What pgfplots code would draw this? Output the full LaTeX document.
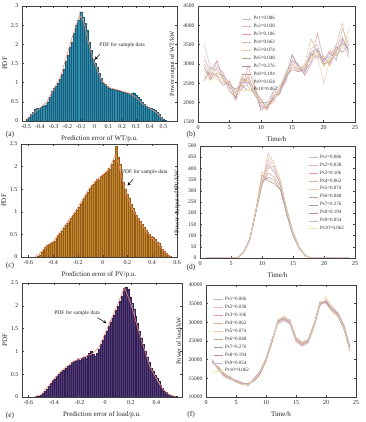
\documentclass[border=0pt]{standalone}
\usepackage{fontspec}
\setmainfont{Liberation Serif}
\usepackage{pgfplots}
\pgfplotsset{compat=1.18}
\usepackage{pgfplotstable}

\definecolor{wtfill}{RGB}{46,142,174}
\definecolor{wtedge}{RGB}{26,92,120}
\definecolor{pvfill}{RGB}{200,136,45}
\definecolor{pvedge}{RGB}{145,92,25}
\definecolor{ldfill}{RGB}{82,58,122}
\definecolor{ldedge}{RGB}{50,32,82}
\definecolor{pdfline}{RGB}{240,140,110}
\definecolor{c1}{RGB}{200,184,192}
\definecolor{c2}{RGB}{236,176,186}
\definecolor{c3}{RGB}{230,150,150}
\definecolor{c4}{RGB}{210,184,150}
\definecolor{c5}{RGB}{244,200,166}
\definecolor{c6}{RGB}{196,162,136}
\definecolor{c7}{RGB}{162,152,174}
\definecolor{c8}{RGB}{190,138,138}
\definecolor{c9}{RGB}{192,184,220}
\definecolor{c10}{RGB}{238,226,166}

\pgfplotstableread{
x y
-0.4925 0.04
-0.4775 0.10
-0.4625 0.17
-0.4475 0.22
-0.4325 0.30
-0.4175 0.33
-0.4025 0.34
-0.3875 0.36
-0.3725 0.40
-0.3575 0.42
-0.3425 0.50
-0.3275 0.62
-0.3125 0.78
-0.2975 0.86
-0.2825 0.90
-0.2675 0.98
-0.2525 1.10
-0.2375 1.22
-0.2225 1.35
-0.2075 1.55
-0.1925 1.72
-0.1775 1.92
-0.1625 2.05
-0.1475 2.30
-0.1325 2.50
-0.1175 2.62
-0.1025 2.85
-0.0875 2.70
-0.0725 2.55
-0.0575 2.38
-0.0425 2.05
-0.0275 1.85
-0.0125 1.62
0.0025 1.50
0.0175 1.40
0.0325 1.25
0.0475 1.12
0.0625 1.00
0.0775 0.95
0.0925 0.90
0.1075 0.86
0.1225 0.84
0.1375 0.82
0.1525 0.80
0.1675 0.80
0.1825 0.78
0.1975 0.76
0.2125 0.76
0.2275 0.72
0.2425 0.74
0.2575 0.70
0.2725 0.72
0.2875 0.74
0.3025 0.68
0.3175 0.62
0.3325 0.56
0.3475 0.48
0.3625 0.44
0.3775 0.40
0.3925 0.36
0.4075 0.34
0.4225 0.30
0.4375 0.28
0.4525 0.24
0.4675 0.18
0.4825 0.10
0.4975 0.04
0.5125 0.02
}\histWT

\pgfplotstableread{
x y
-0.5225 0.01
-0.5075 0.04
-0.4925 0.10
-0.4775 0.16
-0.4625 0.22
-0.4475 0.26
-0.4325 0.28
-0.4175 0.30
-0.4025 0.33
-0.3875 0.35
-0.3725 0.42
-0.3575 0.48
-0.3425 0.52
-0.3275 0.58
-0.3125 0.64
-0.2975 0.70
-0.2825 0.74
-0.2675 0.80
-0.2525 0.86
-0.2375 0.92
-0.2225 0.98
-0.2075 1.04
-0.1925 1.10
-0.1775 1.18
-0.1625 1.24
-0.1475 1.30
-0.1325 1.38
-0.1175 1.44
-0.1025 1.52
-0.0875 1.58
-0.0725 1.62
-0.0575 1.68
-0.0425 1.72
-0.0275 1.70
-0.0125 1.78
0.0025 1.82
0.0175 1.86
0.0325 1.90
0.0475 1.96
0.0625 1.95
0.0775 2.05
0.0925 2.15
0.1075 2.45
0.1225 2.20
0.1375 2.05
0.1525 1.85
0.1675 1.65
0.1825 1.50
0.1975 1.40
0.2125 1.30
0.2275 1.18
0.2425 1.08
0.2575 1.00
0.2725 0.92
0.2875 0.86
0.3025 0.80
0.3175 0.72
0.3325 0.66
0.3475 0.60
0.3625 0.54
0.3775 0.50
0.3925 0.46
0.4075 0.44
0.4225 0.40
0.4375 0.34
0.4525 0.30
0.4675 0.24
0.4825 0.18
0.4975 0.12
0.5125 0.08
0.5275 0.04
0.5425 0.02
}\histPV

\pgfplotstableread{
x y
-0.5425 0.01
-0.5275 0.01
-0.5125 0.02
-0.4975 0.04
-0.4825 0.08
-0.4675 0.12
-0.4525 0.18
-0.4375 0.24
-0.4225 0.30
-0.4075 0.36
-0.3925 0.40
-0.3775 0.46
-0.3625 0.50
-0.3475 0.54
-0.3325 0.58
-0.3175 0.60
-0.3025 0.64
-0.2875 0.68
-0.2725 0.70
-0.2575 0.76
-0.2425 0.78
-0.2275 0.80
-0.2125 0.84
-0.1975 0.80
-0.1825 0.86
-0.1675 0.88
-0.1525 0.84
-0.1375 0.92
-0.1225 0.96
-0.1075 1.00
-0.0925 0.94
-0.0775 0.90
-0.0625 0.96
-0.0475 1.05
-0.0325 1.15
-0.0175 1.25
-0.0025 1.35
0.0125 1.45
0.0275 1.55
0.0425 1.65
0.0575 1.72
0.0725 1.80
0.0875 1.90
0.1025 2.00
0.1175 2.10
0.1325 2.22
0.1475 2.38
0.1625 2.40
0.1775 2.36
0.1925 2.20
0.2075 2.05
0.2225 1.92
0.2375 1.78
0.2525 1.62
0.2675 1.45
0.2825 1.30
0.2975 1.15
0.3125 1.00
0.3275 0.88
0.3425 0.76
0.3575 0.64
0.3725 0.56
0.3875 0.48
0.4025 0.42
0.4175 0.34
0.4325 0.26
0.4475 0.20
0.4625 0.14
0.4775 0.10
0.4925 0.06
0.5075 0.04
0.5225 0.02
0.5375 0.01
0.5525 0.01
}\histLD

\pgfplotstableread{
t s1 s2 s3 s4 s5 s6 s7 s8 s9 s10
1 3500 2700 3000 2600 3200 2550 2900 2800 3100 2750
2 2900 2600 2650 2800 2700 2900 2600 2750 2850 2550
3 3050 2900 3100 2700 2600 2850 2750 2700 2950 2800
4 2700 2800 2550 2600 2500 2650 2700 2450 2750 2600
5 2500 2350 2500 2400 2600 2300 2450 2550 2400 2500
6 2100 2050 2300 2250 2200 2150 2350 2100 2250 2200
7 2650 2400 2350 2700 2500 2600 2450 2550 2350 2450
8 2500 2700 2950 2400 2600 2550 2300 2650 2500 2600
9 2350 2200 2400 2250 2500 2200 2350 2300 2450 2300
10 1900 2000 1850 2050 1950 2000 1800 2100 1900 1950
11 1850 1800 1950 1900 1800 2000 1900 1850 2000 1900
12 2300 2100 2000 2200 2250 2050 2100 2150 2300 2000
13 2450 2250 2400 2200 2350 2300 2250 2350 2250 2400
14 2700 2600 2550 2700 2600 2800 2650 2700 2550 2750
15 3200 2950 3100 2900 3050 3000 3250 2850 3100 3000
16 2950 2800 3000 2850 2950 2850 2900 2800 2950 2900
17 2850 2900 2700 3000 2800 2950 2750 2850 2800 2900
18 3400 3300 3000 3650 3100 3250 3300 3200 3050 3150
19 3500 3200 3800 3300 3250 3150 3400 3350 3200 3300
20 3000 3150 3100 2950 2500 3200 3050 3000 3100 2900
21 3100 3000 3350 3200 3100 2950 3300 3050 3200 3150
22 3300 3400 3200 3500 3250 3350 3100 3450 3300 3250
23 3900 3700 3500 4050 3400 3550 3650 3300 3600 3500
24 3500 3300 3600 3200 3900 3400 3350 3500 3150 3700
}\wtdata

\pgfplotstableread{
t s1 s2 s3 s4 s5 s6 s7 s8 s9 s10
1 0 0 0 0 0 0 0 0 0 0
2 0 0 0 0 0 0 0 0 0 0
3 0 0 0 0 0 0 0 0 0 0
4 0 0 0 0 0 0 0 0 0 0
5 0 0 0 0 0 0 0 0 0 0
6 0 0 0 0 0 0 0 0 0 0
7 25 22 28 24 26 23 27 25 24 26
8 80 75 85 78 82 76 84 80 79 81
9 210 200 215 205 220 200 210 205 212 208
10 330 340 350 320 385 330 340 370 335 345
11 470 440 420 400 350 380 360 345 410 455
12 420 400 380 410 340 360 350 330 390 415
13 340 320 330 345 310 320 300 305 330 335
14 210 200 215 220 195 205 190 200 210 212
15 110 105 115 120 100 108 100 105 112 110
16 45 42 48 50 40 44 42 45 46 44
17 10 8 12 12 9 10 9 10 11 10
18 0 0 0 0 0 0 0 0 0 0
19 0 0 0 0 0 0 0 0 0 0
20 0 0 0 0 0 0 0 0 0 0
21 0 0 0 0 0 0 0 0 0 0
22 0 0 0 0 0 0 0 0 0 0
23 0 0 0 0 0 0 0 0 0 0
24 0 0 0 0 0 0 0 0 0 0
}\pvdata

\pgfplotstableread{
t s1 s2 s3 s4 s5 s6 s7 s8 s9 s10
1 19800 19500 20000 19300 19900 19600 20100 19400 19700 20200
2 17500 18200 17600 17900 17300 18000 17700 18100 17400 17800
3 15800 16400 15600 16200 15400 16500 15900 16100 15700 16300
4 15000 15200 14700 15300 14800 15100 14900 15400 14600 15000
5 14300 14000 14400 14100 14500 14200 14000 14300 14600 14100
6 13700 13400 13900 13500 13800 13300 13600 13500 14000 13400
7 13300 13500 13100 13600 12900 13400 13200 13700 13000 13300
8 14800 14400 15000 14300 14700 14500 14900 14200 14800 14600
9 16800 16200 16900 16000 16600 16400 16700 16100 16800 16500
10 20200 19800 20500 19500 20300 19900 20100 19700 20400 20000
11 25300 24800 25600 24500 25200 25000 24900 24700 25400 25100
12 30500 30000 29800 30800 29500 30600 30200 30400 29900 30700
13 30800 31500 30600 31200 30200 31600 30900 31300 30500 31400
14 29800 30500 29500 30200 30800 29900 30100 30400 29700 30300
15 25200 26000 24800 25800 25400 25600 25300 25700 24900 25500
16 24000 24500 23800 24700 23600 24300 24100 24600 23500 24400
17 24800 25300 24600 25200 24400 25100 24900 25400 24500 25200
18 29000 29600 28700 29400 28600 29100 29300 29500 28800 29200
19 34800 35300 34500 35600 34200 35100 34900 35400 34600 35200
20 35300 35800 36000 35100 36500 35400 35600 35200 35900 37200
21 33700 33200 34000 33000 34500 33400 33600 33100 33900 33300
22 32200 31800 32600 31500 32400 32000 32300 31700 32500 31900
23 28800 28300 29200 28000 29500 28600 28900 28200 29100 28400
24 23000 22500 23500 22200 23800 22900 23200 22400 23600 22700
}\lddata

\pgfplotsset{
  base/.style={
    scale only axis, anchor=south west,
    tick align=inside, major tick length=2pt,
    axis line style={black!75}, every tick/.style={black!75},
    tick label style={font=\fontsize{6}{6}\selectfont, text=black!85},
    label style={font=\fontsize{7}{7.5}\selectfont, text=black!85},
    /pgf/number format/assume math mode=true,
    /pgf/number format/1000 sep={},
    scaled ticks=false,
  },
  hist/.style={base, ymin=0, ylabel={PDF}, axis on top,
    ylabel style={yshift=-3pt}},
  lines/.style={base, xmin=0, xmax=25, xtick={0,5,...,25}, xlabel={Time/h},
    yticklabel style={font=\fontsize{5.5}{5.5}\selectfont},
    ylabel style={font=\fontsize{6.5}{7}\selectfont, yshift=1pt},
    legend cell align=left,
    legend style={draw=none, fill=none, font=\fontsize{5}{5}\selectfont,
      row sep=-0.9pt, inner sep=0pt, text=black!80},
    legend image code/.code={\draw[#1] (0pt,0pt) -- (9pt,0pt);},
    every axis plot/.append style={line width=0.45pt, no marks},
  },
  hbar/.style={ybar, bar width=0.015, bar shift=0pt, line width=0.2pt},
  pdfl/.style={color=pdfline, line width=0.6pt, no marks},
}

\begin{document}
\begin{tikzpicture}
\path[use as bounding box] (0pt,0pt) rectangle (365pt,422pt);

% (a)
\begin{axis}[hist, at={(22pt,301pt)}, width=155pt, height=115pt,
  xmin=-0.53, xmax=0.6, ymax=3,
  xtick={-0.5,-0.4,...,0.5}, ytick={0,0.5,...,3},
  xlabel={Prediction error of WT/p.u.}]
\addplot[hbar, fill=wtfill, draw=wtedge] table[x=x,y=y] {\histWT};
\addplot[pdfl] coordinates {(-0.5,0.02)(-0.45,0.2)(-0.4,0.33)(-0.35,0.5)(-0.3,0.82)(-0.25,1.15)(-0.2,1.75)(-0.15,2.35)(-0.11,2.75)(-0.08,2.6)(-0.05,2.1)(0,1.5)(0.05,1.05)(0.1,0.88)(0.2,0.78)(0.25,0.72)(0.3,0.62)(0.35,0.45)(0.4,0.33)(0.45,0.22)(0.5,0.03)};
\node[font=\fontsize{5.5}{6}\selectfont, text=black!85] at (axis cs:0.2,1.98) {PDF for sample data};
\draw[-stealth, black, line width=0.5pt] (axis cs:0.04,1.75) -- (axis cs:0.0,1.6);
\end{axis}

% (b)
\begin{axis}[lines, at={(198pt,300pt)}, width=157pt, height=116pt,
  ymin=1500, ymax=4500, ytick={1500,2000,...,4500},
  ylabel={Power output of WT/kW},
  legend style={at={(0.28,0.93)}, anchor=north west}]
\addplot[c1] table[x=t,y=s1] {\wtdata}; \addlegendentry{Ps1=0.086}
\addplot[c2] table[x=t,y=s2] {\wtdata}; \addlegendentry{Ps2=0.038}
\addplot[c3] table[x=t,y=s3] {\wtdata}; \addlegendentry{Ps3=0.106}
\addplot[c4] table[x=t,y=s4] {\wtdata}; \addlegendentry{Ps4=0.062}
\addplot[c5] table[x=t,y=s5] {\wtdata}; \addlegendentry{Ps5=0.074}
\addplot[c6] table[x=t,y=s6] {\wtdata}; \addlegendentry{Ps6=0.048}
\addplot[c7] table[x=t,y=s7] {\wtdata}; \addlegendentry{Ps7=0.276}
\addplot[c8] table[x=t,y=s8] {\wtdata}; \addlegendentry{Ps8=0.194}
\addplot[c9] table[x=t,y=s9] {\wtdata}; \addlegendentry{Ps9=0.054}
\addplot[c10] table[x=t,y=s10] {\wtdata}; \addlegendentry{Ps10=0.062}
\end{axis}

% (c)
\begin{axis}[hist, at={(21pt,165pt)}, width=156pt, height=113pt,
  xmin=-0.66, xmax=0.6, ymax=2.5,
  xtick={-0.6,-0.4,...,0.6}, ytick={0,0.5,...,2.5},
  xlabel={Prediction error of PV/p.u.}]
\addplot[hbar, fill=pvfill, draw=pvedge] table[x=x,y=y] {\histPV};
\addplot[pdfl] coordinates {(-0.55,0)(-0.5,0.1)(-0.45,0.26)(-0.4,0.34)(-0.35,0.53)(-0.3,0.72)(-0.25,0.9)(-0.2,1.1)(-0.15,1.33)(-0.1,1.55)(-0.05,1.7)(0,1.82)(0.05,1.93)(0.1,2.25)(0.13,2.05)(0.15,1.8)(0.2,1.32)(0.25,1.0)(0.3,0.8)(0.35,0.56)(0.4,0.43)(0.45,0.28)(0.5,0.1)(0.55,0.01)};
\node[font=\fontsize{5.5}{6}\selectfont, text=black!85] at (axis cs:0.34,1.88) {PDF for sample data};
\draw[-stealth, black, line width=0.5pt] (axis cs:0.245,1.72) -- (axis cs:0.2,1.58);
\end{axis}

% (d)
\begin{axis}[lines, at={(200pt,164pt)}, width=155pt, height=112pt,
  ymin=0, ymax=500, ytick={0,50,...,500},
  ylabel={Power output of PV/kW},
  legend style={at={(0.70,0.94)}, anchor=north west}]
\addplot[c1] table[x=t,y=s1] {\pvdata}; \addlegendentry{Ps1=0.086}
\addplot[c2] table[x=t,y=s2] {\pvdata}; \addlegendentry{Ps2=0.038}
\addplot[c3] table[x=t,y=s3] {\pvdata}; \addlegendentry{Ps3=0.106}
\addplot[c4] table[x=t,y=s4] {\pvdata}; \addlegendentry{Ps4=0.062}
\addplot[c5] table[x=t,y=s5] {\pvdata}; \addlegendentry{Ps5=0.074}
\addplot[c6] table[x=t,y=s6] {\pvdata}; \addlegendentry{Ps6=0.048}
\addplot[c7] table[x=t,y=s7] {\pvdata}; \addlegendentry{Ps7=0.276}
\addplot[c8] table[x=t,y=s8] {\pvdata}; \addlegendentry{Ps8=0.194}
\addplot[c9] table[x=t,y=s9] {\pvdata}; \addlegendentry{Ps9=0.054}
\addplot[c10] table[x=t,y=s10] {\pvdata}; \addlegendentry{Ps10=0.062}
\end{axis}

% (e)
\begin{axis}[hist, at={(22pt,25pt)}, width=160pt, height=114pt,
  xmin=-0.65, xmax=0.6, ymax=2.5,
  xtick={-0.6,-0.4,...,0.4}, ytick={0,0.5,...,2.5},
  xlabel={Prediction error of load/p.u.}]
\addplot[hbar, fill=ldfill, draw=ldedge] table[x=x,y=y] {\histLD};
\addplot[pdfl] coordinates {(-0.55,0.01)(-0.5,0.05)(-0.45,0.22)(-0.4,0.4)(-0.35,0.55)(-0.3,0.67)(-0.25,0.78)(-0.2,0.83)(-0.15,0.9)(-0.1,0.95)(-0.05,1.08)(0,1.4)(0.05,1.72)(0.1,2.05)(0.15,2.4)(0.2,2.05)(0.25,1.55)(0.3,1.1)(0.35,0.66)(0.4,0.4)(0.45,0.17)(0.5,0.05)(0.55,0.01)};
\node[font=\fontsize{5.5}{6}\selectfont, text=black!85] at (axis cs:-0.22,1.84) {PDF for sample data};
\draw[-stealth, black, line width=0.5pt] (axis cs:-0.06,1.74) -- (axis cs:0.01,1.62);
\end{axis}

% (f)
\begin{axis}[lines, at={(206pt,25pt)}, width=150pt, height=112pt,
  ymin=10000, ymax=40000, ytick={10000,15000,...,40000},
  ylabel={Power of load/kW},
  legend style={at={(0.05,0.91)}, anchor=north west}]
\addplot[c1] table[x=t,y=s1] {\lddata}; \addlegendentry{Ps1=0.086}
\addplot[c2] table[x=t,y=s2] {\lddata}; \addlegendentry{Ps2=0.038}
\addplot[c3] table[x=t,y=s3] {\lddata}; \addlegendentry{Ps3=0.106}
\addplot[c4] table[x=t,y=s4] {\lddata}; \addlegendentry{Ps4=0.062}
\addplot[c5] table[x=t,y=s5] {\lddata}; \addlegendentry{Ps5=0.074}
\addplot[c6] table[x=t,y=s6] {\lddata}; \addlegendentry{Ps6=0.048}
\addplot[c7] table[x=t,y=s7] {\lddata}; \addlegendentry{Ps7=0.276}
\addplot[c8] table[x=t,y=s8] {\lddata}; \addlegendentry{Ps8=0.194}
\addplot[c9] table[x=t,y=s9] {\lddata}; \addlegendentry{Ps9=0.054}
\addplot[c10] table[x=t,y=s10] {\lddata}; \addlegendentry{Ps10=0.062}
\end{axis}

\node[font=\fontsize{7.5}{8}\selectfont, text=black!85] at (10pt,287pt) {(a)};
\node[font=\fontsize{7.5}{8}\selectfont, text=black!85] at (191pt,287pt) {(b)};
\node[font=\fontsize{7.5}{8}\selectfont, text=black!85] at (10pt,156pt) {(c)};
\node[font=\fontsize{7.5}{8}\selectfont, text=black!85] at (191pt,154pt) {(d)};
\node[font=\fontsize{7.5}{8}\selectfont, text=black!85] at (10pt,6pt) {(e)};
\node[font=\fontsize{7.5}{8}\selectfont, text=black!85] at (191pt,7pt) {(f)};
\end{tikzpicture}
\end{document}
